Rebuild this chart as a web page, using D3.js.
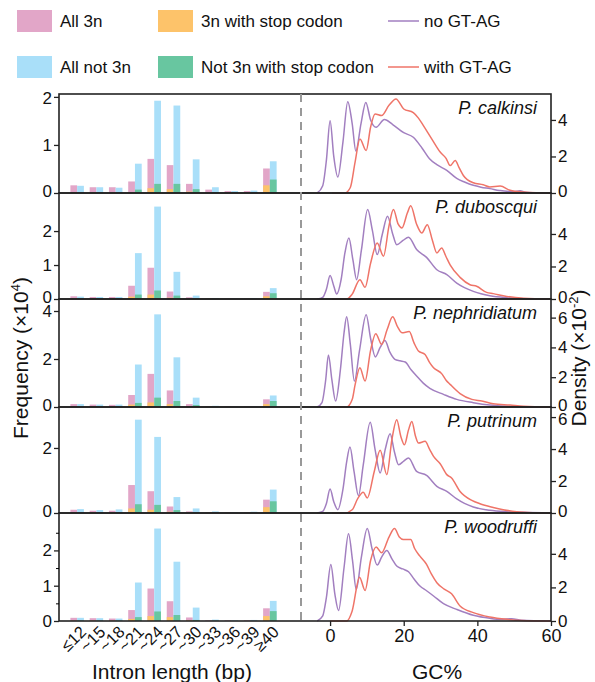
<!DOCTYPE html>
<html>
<head>
<meta charset="utf-8">
<script src="https://cdn.jsdelivr.net/npm/d3@7"></script>
<style>
  body { margin: 0; background: #fff; }
  text { font-family: "Liberation Sans", Arial, sans-serif; fill: #111; }
</style>
</head>
<body>
<svg id="chart" width="595" height="682"></svg>
<script>
const species = ['P. calkinsi', 'P. duboscqui', 'P. nephridiatum', 'P. putrinum', 'P. woodruffi'];
const lengthBins = ['≤12', '~15', '~18', '~21', '~24', '~27', '~30', '~33', '~36', '~39', '≥40'];

// frequency (x10^4), one row per species
const all3n = [
  [0.16, 0.12, 0.12, 0.24, 0.71, 0.58, 0.19, 0.07, 0.04, 0.04, 0.51],
  [0.08, 0.06, 0.06, 0.39, 0.92, 0.22, 0.05, 0.02, 0.02, 0.02, 0.21],
  [0.12, 0.10, 0.09, 0.50, 1.38, 0.69, 0.12, 0.04, 0.03, 0.02, 0.32],
  [0.10, 0.07, 0.07, 0.86, 0.67, 0.20, 0.05, 0.03, 0.03, 0.03, 0.41],
  [0.09, 0.08, 0.07, 0.31, 0.92, 0.56, 0.10, 0.02, 0.02, 0.02, 0.36]
];
const all3nStop = [
  [0.01, 0.01, 0.01, 0.02, 0.10, 0.08, 0.03, 0.01, 0.01, 0.01, 0.16],
  [0.01, 0.01, 0.01, 0.07, 0.13, 0.04, 0.01, 0.01, 0.00, 0.00, 0.08],
  [0.01, 0.01, 0.01, 0.10, 0.19, 0.12, 0.02, 0.01, 0.00, 0.00, 0.12],
  [0.01, 0.01, 0.01, 0.14, 0.10, 0.04, 0.01, 0.01, 0.00, 0.00, 0.18],
  [0.01, 0.01, 0.01, 0.06, 0.14, 0.11, 0.02, 0.00, 0.00, 0.00, 0.14]
];
const allNot3n = [
  [0.15, 0.12, 0.11, 0.61, 1.92, 1.82, 0.70, 0.12, 0.04, 0.05, 0.66],
  [0.07, 0.06, 0.06, 1.35, 2.72, 0.80, 0.10, 0.03, 0.02, 0.03, 0.32],
  [0.12, 0.10, 0.10, 1.77, 3.86, 2.07, 0.39, 0.05, 0.03, 0.03, 0.48],
  [0.12, 0.09, 0.11, 2.87, 2.34, 0.49, 0.14, 0.05, 0.03, 0.04, 0.72],
  [0.09, 0.08, 0.07, 1.09, 2.62, 1.68, 0.38, 0.04, 0.02, 0.03, 0.57]
];
const not3nStop = [
  [0.01, 0.01, 0.01, 0.07, 0.19, 0.19, 0.08, 0.02, 0.01, 0.01, 0.28],
  [0.01, 0.01, 0.01, 0.13, 0.25, 0.10, 0.02, 0.01, 0.00, 0.00, 0.17],
  [0.01, 0.01, 0.01, 0.17, 0.39, 0.25, 0.08, 0.01, 0.00, 0.00, 0.25],
  [0.01, 0.01, 0.01, 0.27, 0.25, 0.09, 0.02, 0.01, 0.00, 0.00, 0.36],
  [0.01, 0.01, 0.01, 0.11, 0.27, 0.17, 0.03, 0.01, 0.00, 0.00, 0.28]
];

// GC% density (x10^-2), [gc, density]
const noGtag = [
  [[-3.5,0],[-2,0.4],[-1,1.8],[0,3.96],[1,2.0],[2.1,0.87],[3.5,2.8],[4.8,5.0],[6,3.8],[7,2.3],[8.4,3.8],[9.7,4.96],[11,4.0],[12.5,3.6],[14.75,4.02],[17,3.75],[20,3.3],[22.6,3.05],[25,2.45],[27,1.87],[29,1.55],[31.7,1.24],[34.4,0.8],[36.5,0.6],[38.9,0.42],[41,0.32],[43.4,0.24],[46,0.14],[48,0.09],[50,0.08],[51.6,0.12],[53,0.04],[56,0.01],[60,0]],
  [[-3.5,0],[-2,0.1],[-1,0.6],[0,1.44],[1,0.8],[1.8,0.31],[3,1.2],[4,2.8],[5.1,3.75],[6.2,2.4],[7.2,1.19],[8.5,3.0],[10.2,5.5],[11.5,4.2],[12.8,2.73],[14.2,4.0],[15.6,5.09],[17,4.0],[18.1,3.34],[19.8,3.6],[21.3,3.8],[23.5,3.04],[26.2,2.56],[29,1.8],[31.7,1.5],[34.4,0.98],[36.5,0.7],[38.9,0.47],[41,0.32],[43.4,0.2],[48,0.08],[52.5,0.02],[60,0]],
  [[-3.5,0],[-2.2,0.3],[-1.2,1.8],[-0.45,3.49],[0.5,1.8],[1.5,0.4],[2.8,2.5],[3.8,5.0],[4.5,6.06],[5.5,4.2],[6.6,1.74],[8,3.8],[9.8,6.2],[11,4.6],[12.3,3.36],[13.6,4.0],[14.9,4.47],[16.2,3.7],[17.6,3.2],[19,3.1],[20.4,3.02],[22,2.5],[23.5,2.08],[25.3,1.6],[27.1,1.25],[30.8,0.85],[34.4,0.51],[38.9,0.29],[43.4,0.13],[48,0.05],[52,0.02],[60,0]],
  [[-3.5,0],[-2,0.1],[-1,0.6],[0,1.5],[1,0.7],[2.1,0.21],[3.5,1.5],[4.5,3.2],[5.4,4.13],[6.5,2.6],[7.7,1.08],[9,3.0],[10.9,5.67],[12.2,4.0],[13.6,2.5],[15,4.0],[16.3,4.96],[17.5,3.8],[18.6,3.02],[20,3.25],[21.3,3.44],[23.5,2.6],[26.2,2.35],[29,1.67],[31.7,1.35],[34.4,0.88],[36.5,0.6],[38.9,0.38],[43.4,0.17],[48,0.08],[52.5,0.04],[60,0]],
  [[-3.5,0],[-2,0.3],[-1,1.4],[0.2,3.37],[1.3,1.6],[2.3,0.63],[3.8,3.2],[5,5.19],[6.1,3.6],[7.1,1.88],[8.5,3.8],[10.1,5.5],[11.4,4.3],[12.8,3.33],[14,3.8],[15.4,4.2],[16.8,3.7],[18.1,3.27],[19.7,3.1],[21.3,2.93],[22.8,2.5],[24.4,2.08],[26.2,1.8],[28.1,1.49],[30.8,1.03],[34.4,0.69],[38.9,0.34],[43.4,0.16],[46.5,0.1],[49.3,0.14],[52,0.04],[60,0]]
];
const withGtag = [
  [[0.5,0],[4,0],[5.5,0.3],[6.8,1.7],[8.1,2.96],[9.8,2.33],[11,3.6],[12.2,4.33],[14,4.24],[16,4.8],[17.9,5.15],[20,4.6],[22.6,4.4],[24,4.1],[25.3,3.7],[27.6,2.96],[29.9,2.24],[31.5,1.9],[32.6,1.5],[34,1.78],[35,1.4],[36.2,0.96],[38.9,0.56],[41.6,0.45],[43.4,0.33],[46.2,0.38],[48.9,0.15],[52.5,0.05],[56,0.01],[60,0]],
  [[0.5,0],[4.5,0],[6,0.3],[8.1,1.19],[9.5,0.72],[11,2.2],[12.8,3.45],[14.5,2.63],[16,4.5],[17.2,5.5],[18.5,4.6],[19.5,4.37],[21,5.3],[21.9,5.74],[23.5,4.6],[24.9,4.06],[26.4,4.57],[27.8,3.6],[29,2.83],[30.3,3.14],[31.5,2.6],[32.6,2.1],[35.3,1.33],[38,0.88],[39.8,0.78],[42.5,0.41],[44.3,0.33],[48,0.16],[52.5,0.05],[60,0]],
  [[-0.5,0],[4.5,0],[6,0.5],[6.8,1.5],[8.1,2.64],[9.5,1.74],[11,3.8],[12.4,4.92],[14,4.2],[15.5,5.2],[17,6.06],[18.3,5.4],[19.5,4.99],[21.5,5.06],[22.8,4.3],[24,3.76],[25.8,3.53],[27,3.0],[28.1,2.64],[30.3,2.24],[31.5,1.8],[32.6,1.52],[35.3,0.9],[38.5,0.51],[41.2,0.4],[44.3,0.22],[48.9,0.13],[52.5,0.05],[60,0]],
  [[0.5,0],[4,0],[6,0.2],[7.5,0.9],[9,1.3],[10.1,0.94],[12,2.6],[13.6,3.92],[15.4,2.4],[16.8,4.6],[18.1,5.83],[19.2,4.8],[20.2,4.27],[21.3,5.2],[22.2,5.73],[23.2,4.8],[24,4.38],[25.8,4.48],[27,4.0],[28.1,3.54],[29.9,3.08],[31.7,2.4],[33,2.19],[35.3,1.35],[38.5,0.79],[40.7,0.58],[44.3,0.35],[47,0.21],[50.7,0.08],[55,0.02],[60,0]],
  [[0,0],[4.5,0],[6,0.6],[8,2.61],[9.5,1.82],[11,3.6],[12.5,4.4],[14,4.06],[16,5.0],[17.5,5.5],[18.8,5.0],[19.9,4.85],[21.9,4.85],[23,4.3],[24.4,3.86],[26.2,3.37],[27.5,2.8],[29,2.28],[31,1.9],[33,1.62],[35.3,0.89],[38.9,0.5],[43.4,0.24],[48,0.1],[52,0.03],[60,0]]
];

// axis ranges and ticks per panel
const freqMax = [2.06, 3.12, 4.5, 3.26, 3.06];
const freqTicks = [[0, 1, 2], [0, 1, 2], [0, 2, 4], [0, 2], [0, 1, 2]];
const densMax = [5.42, 6.52, 7.25, 6.63, 6.43];
const densTicks = [[0, 2, 4], [0, 2, 4], [0, 2, 4, 6], [0, 2, 4, 6], [0, 2, 4]];
const gcTicks = [0, 20, 40, 60];

const PINK = '#e2a6c8';
const ORANGE = '#fdc36a';
const BLUE = '#a9dff9';
const GREEN = '#68c6a0';
const PURPLE = '#a27fc0';
const RED = '#ef7468';

const LEFT = 59;
const RIGHT = 551;
const DIVIDER = 301;
const panelTops = [94, 193, 299, 407, 513];
const panelBottoms = [193, 299, 407, 513, 621];

const svg = d3.select('#chart');

const x = d3.scaleBand()
  .domain(lengthBins)
  .range([67.5, 279.5])
  .paddingInner(0.3)
  .paddingOuter(0.15);
const xSub = d3.scaleBand()
  .domain(['3n', 'not3n'])
  .range([0, x.bandwidth()]);

const gc = d3.scaleLinear().domain([-7.9, 60]).range([DIVIDER, RIGHT]);

species.forEach((name, i) => {
  const top = panelTops[i];
  const bottom = panelBottoms[i];
  const y = d3.scaleLinear().domain([0, freqMax[i]]).range([bottom, top]);
  const yd = d3.scaleLinear().domain([0, densMax[i]]).range([bottom, top]);
  const g = svg.append('g');

  const bars = lengthBins.map((bin, j) => ({
    bin,
    all3n: all3n[i][j],
    all3nStop: all3nStop[i][j],
    allNot3n: allNot3n[i][j],
    not3nStop: not3nStop[i][j],
  }));

  const layers = [
    { key: 'all3n', sub: '3n', color: PINK },
    { key: 'all3nStop', sub: '3n', color: ORANGE },
    { key: 'allNot3n', sub: 'not3n', color: BLUE },
    { key: 'not3nStop', sub: 'not3n', color: GREEN },
  ];
  layers.forEach(layer => {
    g.selectAll(`.bar-${layer.key}`)
      .data(bars)
      .enter()
      .append('rect')
      .attr('x', d => x(d.bin) + xSub(layer.sub))
      .attr('width', xSub.bandwidth())
      .attr('y', d => y(d[layer.key]))
      .attr('height', d => y(0) - y(d[layer.key]))
      .attr('fill', layer.color);
  });

  const line = d3.line()
    .x(d => gc(d[0]))
    .y(d => yd(d[1]))
    .curve(d3.curveMonotoneX);

  g.append('path')
    .datum(noGtag[i])
    .attr('d', line)
    .attr('fill', 'none')
    .attr('stroke', PURPLE)
    .attr('stroke-width', 1.5);
  g.append('path')
    .datum(withGtag[i])
    .attr('d', line)
    .attr('fill', 'none')
    .attr('stroke', RED)
    .attr('stroke-width', 1.5);

  // frame
  g.append('rect')
    .attr('x', LEFT)
    .attr('y', top)
    .attr('width', RIGHT - LEFT)
    .attr('height', bottom - top)
    .attr('fill', 'none')
    .attr('stroke', '#222')
    .attr('stroke-width', 1.6);

  const leftAxis = g.append('g')
    .attr('transform', `translate(${LEFT},0)`)
    .call(d3.axisLeft(y).tickValues(freqTicks[i]).tickFormat(d3.format('d')).tickSize(5).tickPadding(2).tickSizeOuter(0));
  if (i === 4) {
    g.append('g')
      .attr('transform', `translate(${LEFT},0)`)
      .call(d3.axisLeft(y).tickValues([0.5, 1.5, 2.5]).tickFormat('').tickSize(3).tickSizeOuter(0))
      .call(a => a.select('.domain').remove());
  }
  const rightAxis = g.append('g')
    .attr('transform', `translate(${RIGHT},0)`)
    .call(d3.axisRight(yd).tickValues(densTicks[i]).tickFormat(d3.format('d')).tickSize(5).tickPadding(2).tickSizeOuter(0));

  [[leftAxis, y], [rightAxis, yd]].forEach(([a, scale]) => {
    a.select('.domain').remove();
    a.selectAll('line').attr('stroke', '#222').attr('stroke-width', 1.3);
    a.selectAll('text')
      .style('font-size', '17px')
      .attr('fill', '#111')
      // nudge labels sitting on a shared panel border so they do not collide
      .attr('y', d => {
        if (d === 0 && i < 4) return -1.5;
        if (scale(d) - top < 12) return 1.5;
        return 0;
      });
  });

  g.append('text')
    .attr('x', 537)
    .attr('y', top + 20)
    .attr('text-anchor', 'end')
    .style('font-size', '18px')
    .style('font-style', 'italic')
    .text(name);
});

// dashed divider
svg.append('line')
  .attr('x1', DIVIDER)
  .attr('x2', DIVIDER)
  .attr('y1', panelTops[0])
  .attr('y2', panelBottoms[4])
  .attr('stroke', '#999')
  .attr('stroke-width', 2)
  .attr('stroke-dasharray', '8,6');

const bottom = panelBottoms[4];

const xAxis = svg.append('g')
  .attr('transform', `translate(0,${bottom})`)
  .call(d3.axisBottom(x).tickSize(0).tickSizeOuter(0));
xAxis.select('.domain').remove();
xAxis.selectAll('text')
  .style('font-size', '16.5px')
  .attr('text-anchor', 'end')
  .attr('dy', '0.35em')
  .attr('transform', 'translate(6,8) rotate(-45)')
  .attr('y', 0)
  .attr('x', 0);

const gcAxis = svg.append('g')
  .attr('transform', `translate(0,${bottom})`)
  .call(d3.axisBottom(gc).tickValues(gcTicks).tickSize(5).tickSizeOuter(0));
gcAxis.select('.domain').remove();
gcAxis.selectAll('line').attr('stroke', '#222').attr('stroke-width', 1.3);
gcAxis.selectAll('text').style('font-size', '18px').attr('fill', '#111');

// axis titles
svg.append('text')
  .attr('transform', 'translate(21,358) rotate(-90)')
  .attr('text-anchor', 'middle')
  .attr('dy', '0.35em')
  .style('font-size', '21px')
  .html('Frequency (×10<tspan dy="-8" font-size="13">4</tspan><tspan dy="8">)</tspan>');
svg.append('text')
  .attr('transform', 'translate(579,358) rotate(-90)')
  .attr('text-anchor', 'middle')
  .attr('dy', '0.35em')
  .style('font-size', '21px')
  .html('Density (×10<tspan dy="-8" font-size="13">-2</tspan><tspan dy="8">)</tspan>');
svg.append('text')
  .attr('x', 172)
  .attr('y', 679)
  .attr('text-anchor', 'middle')
  .style('font-size', '21px')
  .text('Intron length (bp)');
svg.append('text')
  .attr('x', 437)
  .attr('y', 679)
  .attr('text-anchor', 'middle')
  .style('font-size', '21px')
  .text('GC%');

// legend
const legendSwatches = [
  { label: 'All 3n', color: PINK, x: 17, y: 21 },
  { label: '3n with stop codon', color: ORANGE, x: 158, y: 21 },
  { label: 'All not 3n', color: BLUE, x: 17, y: 67 },
  { label: 'Not 3n with stop codon', color: GREEN, x: 158, y: 67 },
];
const legendLines = [
  { label: 'no GT-AG', color: PURPLE, x: 388, y: 21 },
  { label: 'with GT-AG', color: RED, x: 388, y: 67 },
];
const legend = svg.append('g');
legendSwatches.forEach(d => {
  legend.append('rect')
    .attr('x', d.x).attr('y', d.y - 11)
    .attr('width', 35).attr('height', 22)
    .attr('fill', d.color);
  legend.append('text')
    .attr('x', d.x + 43).attr('y', d.y)
    .attr('dy', '0.35em')
    .style('font-size', '17px')
    .text(d.label);
});
legendLines.forEach(d => {
  legend.append('line')
    .attr('x1', d.x).attr('x2', d.x + 31)
    .attr('y1', d.y).attr('y2', d.y)
    .attr('stroke', d.color)
    .attr('stroke-width', 1.5);
  legend.append('text')
    .attr('x', d.x + 36).attr('y', d.y)
    .attr('dy', '0.35em')
    .style('font-size', '17px')
    .text(d.label);
});
</script>
</body>
</html>
